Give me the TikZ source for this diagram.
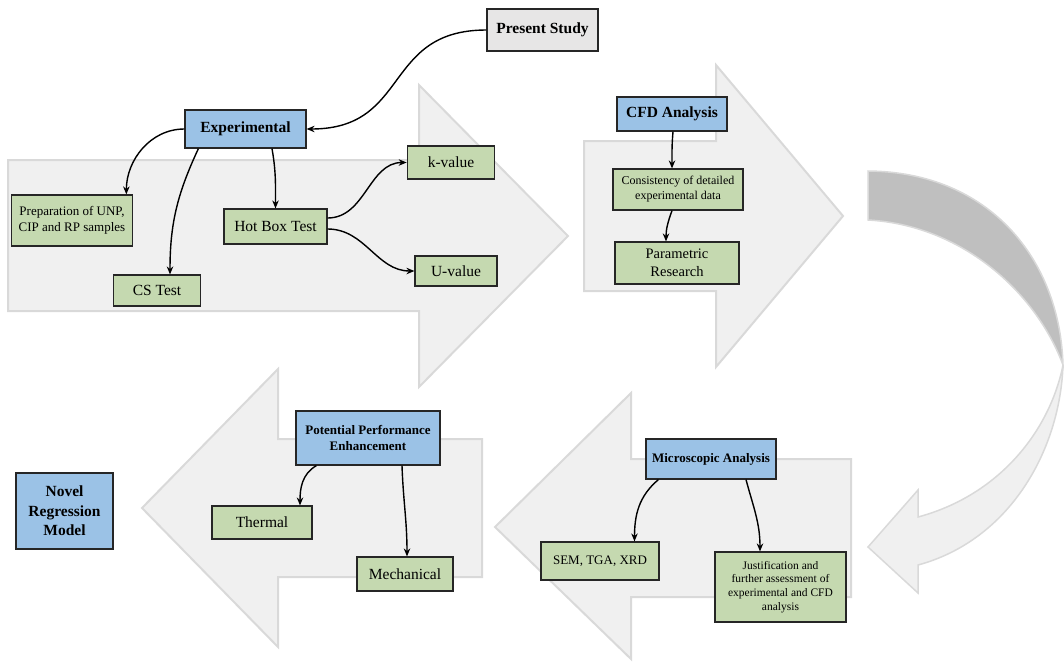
\documentclass[tikz,border=0pt]{standalone}
\usepackage{fontspec}
\setmainfont{Liberation Serif}
\usetikzlibrary{arrows.meta}
\definecolor{headblue}{RGB}{155,194,230}
\definecolor{leafgreen}{RGB}{197,217,176}
\definecolor{studygray}{RGB}{231,230,230}
\definecolor{flowfill}{RGB}{240,240,240}
\definecolor{flowline}{RGB}{217,217,217}
\definecolor{turnfill}{RGB}{191,191,191}
\begin{document}
\begin{tikzpicture}[x=1pt, y=-1pt,
  box/.style={draw=black!85, line width=1.2pt, inner sep=1pt, align=center},
  headbox/.style={box, fill=headblue, font=\bfseries\fontsize{15.5}{19.5}\selectfont},
  leafbox/.style={box, fill=leafgreen, font=\fontsize{15.5}{18}\selectfont},
  bigarrow/.style={fill=flowfill, draw=flowline, line width=2pt},
  link/.style={-{Stealth[length=8pt,width=6.5pt]}, line width=1.4pt}]
\useasboundingbox (0,0) rectangle (1064,662);
% background arrows
\draw [bigarrow] (8,160) -- (419,160) -- (419,85) -- (568,236) -- (419,387) -- (419,311) -- (8,311) -- cycle;
\draw [bigarrow] (584,141) -- (716,141) -- (716,65) -- (843,216) -- (716,367) -- (716,291) -- (584,291) -- cycle;
\draw [bigarrow] (482,439) -- (278,439) -- (278,369) -- (142,508) -- (278,647) -- (278,577) -- (482,577) -- cycle;
\draw [bigarrow] (851,459) -- (631,459) -- (631,393) -- (495,527) -- (631,659) -- (631,597) -- (851,597) -- cycle;
\draw [fill=turnfill, draw=flowline, line width=1.5pt] (868,171) .. controls (990,172) and (1060,260) .. (1063,365) .. controls (1035,290) and (960,225) .. (868,220) -- cycle;
\draw [bigarrow, line width=1.5pt] (1063,365) .. controls (1060,450) and (1010,540) .. (918,565) -- (918,593) -- (868,547) -- (918,490) -- (918,517) .. controls (1000,495) and (1050,430) .. (1063,365) -- cycle;
% boxes
\node (ps) at (542.5,30) [box, fill=studygray, font=\bfseries\fontsize{15.5}{19}\selectfont, minimum width=111pt, minimum height=42pt] {Present Study};
\node (exp) at (245.5,129) [headbox, minimum width=121pt, minimum height=38pt] {Experimental};
\node (prep) at (72,220.5) [leafbox, font=\fontsize{13}{16.5}\selectfont, minimum width=121.5pt, minimum height=51pt] {Preparation of UNP,\\CIP and RP samples};
\node (cs) at (157,290.5) [leafbox, minimum width=87.5pt, minimum height=31pt] {CS Test};
\node (hbt) at (275.5,226.5) [leafbox, minimum width=103pt, minimum height=35pt] {Hot Box Test};
\node (kval) at (451,162.5) [leafbox, minimum width=87.5pt, minimum height=33pt] {k-value};
\node (uval) at (456,271) [leafbox, minimum width=82pt, minimum height=30pt] {U-value};
\node (cfd) at (672,114) [headbox, minimum width=110pt, minimum height=34pt] {CFD Analysis};
\node (cons) at (678,189.5) [leafbox, font=\fontsize{12}{15}\selectfont, minimum width=130pt, minimum height=41pt] {Consistency of detailed\\experimental data};
\node (param) at (677,263) [leafbox, font=\fontsize{14.5}{18}\selectfont, minimum width=124pt, minimum height=42pt] {Parametric\\Research};
\node (micro) at (711,459) [headbox, font=\bfseries\fontsize{13}{16}\selectfont, minimum width=130pt, minimum height=40pt] {Microscopic Analysis};
\node (sem) at (600,561) [leafbox, font=\fontsize{13}{16}\selectfont, minimum width=118pt, minimum height=38pt] {SEM, TGA, XRD};
\node (just) at (780.5,587) [leafbox, font=\fontsize{11.5}{13.7}\selectfont, minimum width=131pt, minimum height=70pt] {Justification and\\further assessment of\\experimental and CFD\\analysis};
\node (ppe) at (368,438) [headbox, font=\bfseries\fontsize{13}{16.7}\selectfont, minimum width=144pt, minimum height=54pt] {Potential Performance\\Enhancement};
\node (therm) at (262,522.5) [leafbox, minimum width=100pt, minimum height=33pt] {Thermal};
\node (mech) at (405,574) [leafbox, minimum width=96pt, minimum height=34pt] {Mechanical};
\node (novel) at (64.5,511) [headbox, minimum width=97pt, minimum height=76pt] {Novel\\Regression\\Model};
% connectors
\path [link] (ps.west) edge [out=180, in=0, looseness=1.3] (exp.east)
  (exp.west) edge [out=180, in=90] ([xshift=-7pt]prep.north east)
  ([xshift=14pt]exp.south west) edge [out=-115, in=90] ([xshift=13pt]cs.north)
  ([xshift=26.5pt]exp.south) edge [out=-80, in=90] (hbt.north)
  ([yshift=8.5pt]hbt.east) edge [out=0, in=180] (kval.west)
  ([yshift=-2.5pt]hbt.east) edge [out=0, in=180] (uval.west);
\path [link] ([xshift=1pt]cfd.south) edge [out=-95, in=90] ([xshift=-6pt]cons.north)
  ([xshift=-6pt]cons.south) edge [out=-110, in=90] ([xshift=-11pt]param.north);
\path [link] ([xshift=13pt]micro.south west) edge [out=-140, in=90] ([xshift=34.5pt]sem.north)
  ([xshift=35pt]micro.south) edge [out=-75, in=90] ([xshift=-20.5pt]just.north);
\path [link] ([xshift=21pt]ppe.south west) edge [out=-150, in=90] ([xshift=38pt]therm.north)
  ([xshift=34pt]ppe.south) edge [out=-88, in=90] ([xshift=2pt]mech.north);
\end{tikzpicture}
\end{document}
